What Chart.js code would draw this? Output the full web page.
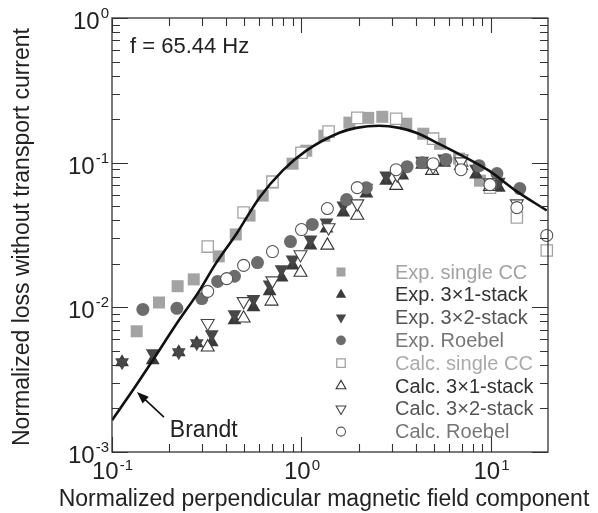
<!DOCTYPE html>
<html>
<head>
<meta charset="utf-8">
<script src="https://cdn.jsdelivr.net/npm/chart.js@4.4.0/dist/chart.umd.min.js"></script>
<style>
  html, body { margin: 0; padding: 0; background: #fff; }
  #wrap { width: 598px; height: 513px; }
</style>
</head>
<body>
<div id="wrap"><canvas id="loss-chart" width="598" height="513"></canvas></div>
<script>
'use strict';

// (log-log axes)
var xTickExps = [-1, 0, 1];
var yTickExps = [-3, -2, -1, 0];

var legendLabels = ['Exp. single CC', 'Exp. 3\u00d71-stack', 'Exp. 3\u00d72-stack', 'Exp. Roebel',
                    'Calc. single CC', 'Calc. 3\u00d71-stack', 'Calc. 3\u00d72-stack', 'Calc. Roebel'];

var expSingleX = [0.135, 0.177, 0.222, 0.270, 0.366, 0.450, 0.532, 0.624, 0.703, 0.897,
                  1.06, 1.32, 1.79, 2.25, 2.67, 3.57, 4.39, 5.39, 6.79, 8.75];
var expSingleY = [0.00683, 0.0108, 0.0140, 0.0156, 0.0225, 0.0319, 0.0431, 0.0592, 0.0728, 0.0984,
                  0.121, 0.1535, 0.189, 0.204, 0.2075, 0.186, 0.1585, 0.135, 0.1067, 0.0751];

var exp31X = [0.113, 0.164, 0.225, 0.280, 0.336, 0.443, 0.558, 0.679, 0.785, 0.897, 1.115,
              1.355, 1.663, 2.20, 2.80, 3.40, 4.33, 5.66, 7.03, 8.34, 11.0];
var exp31Y = [0.00418, 0.00431, 0.0049, 0.00565, 0.00573, 0.00813, 0.0100, 0.0129, 0.0161, 0.0195, 0.0268,
              0.0351, 0.0452, 0.0611, 0.0751, 0.0814, 0.0968, 0.100, 0.100, 0.0827, 0.0672];

var exp32X = [0.113, 0.164, 0.225, 0.280, 0.336, 0.443, 0.558, 0.679, 0.785, 0.897, 1.115,
              1.355, 1.663, 2.20, 2.80, 3.40, 4.33, 5.66, 7.03, 8.34, 11.0];
var exp32Y = [0.00418, 0.00482, 0.0049, 0.00565, 0.00651, 0.00895, 0.0114, 0.0144, 0.0183, 0.0214, 0.0294,
              0.0386, 0.0505, 0.0672, 0.0814, 0.0867, 0.1033, 0.1067, 0.1067, 0.0909, 0.0739];

var expRoebelX = [0.1455, 0.220, 0.298, 0.361, 0.443, 0.586, 0.875, 1.14, 1.73, 2.20,
                  3.61, 4.33, 5.79, 8.65, 10.75, 14.2];
var expRoebelY = [0.00968, 0.00984, 0.0115, 0.0151, 0.0164, 0.0204, 0.0285, 0.0374, 0.0556, 0.0672,
                  0.0938, 0.100, 0.105, 0.0953, 0.084, 0.0662];

var calcSingleX = [0.320, 0.495, 0.703, 1.0, 1.39, 1.97, 3.16, 4.95, 6.95, 9.88, 13.7, 19.7];
var calcSingleY = [0.0263, 0.0452, 0.0739, 0.117, 0.164, 0.204, 0.201, 0.1466, 0.1033, 0.0672, 0.0418, 0.0247];

var calc31X = [0.320, 0.495, 0.695, 0.988, 1.37, 1.97, 3.16, 4.89, 6.95, 9.88];
var calc31Y = [0.0053, 0.0084, 0.0110, 0.0174, 0.0268, 0.0431, 0.0694, 0.0881, 0.0953, 0.0683];

var calc32X = [0.320, 0.495, 0.703, 0.988, 1.39, 1.97, 3.2, 4.95, 6.95, 9.88, 13.7];
var calc32Y = [0.00776, 0.0110, 0.0153, 0.0232, 0.0356, 0.0521, 0.0827, 0.0938, 0.1017, 0.0728, 0.0521];

var calcRoebelX = [0.320, 0.403, 0.495, 0.703, 1.0, 1.37, 1.97, 3.16, 4.95, 6.95, 9.88, 13.7, 19.7];
var calcRoebelY = [0.0129, 0.0158, 0.0195, 0.0243, 0.0345, 0.0482, 0.0672, 0.0894, 0.0984, 0.0894, 0.0705, 0.0489, 0.0314];

var brandtX = [0.1, 0.129, 0.164, 0.220, 0.290, 0.348, 0.455, 0.601, 0.795, 1.06, 1.585,
               1.95, 2.57, 3.28, 4.03, 5.32, 7.03, 9.76, 13.5, 19.7];
var brandtY = [0.00166, 0.00268, 0.0043, 0.00776, 0.0131, 0.0195, 0.0324, 0.0574, 0.088, 0.121, 0.161,
               0.174, 0.180, 0.174, 0.161, 0.135, 0.112, 0.088, 0.0641, 0.0467];

var FONT = '"Liberation Sans", Arial, sans-serif';

function pts(xs, ys) {
  return xs.map(function (x, i) { return { x: x, y: ys[i] }; });
}

// marker look for each series, same order as legendLabels
var styles = [
  { shape: 'rect', r: 8.5, rot: 0, fill: '#a3a3a3', stroke: '#a3a3a3', lw: 0 },
  { shape: 'triangle', r: 8, rot: 0, fill: '#3a3a3a', stroke: '#3a3a3a', lw: 0 },
  { shape: 'triangle', r: 8, rot: 180, fill: '#474747', stroke: '#474747', lw: 0 },
  { shape: 'circle', r: 6.5, rot: 0, fill: '#6c6c6c', stroke: '#6c6c6c', lw: 0 },
  { shape: 'rect', r: 8, rot: 0, fill: '#fff', stroke: '#a3a3a3', lw: 1.3 },
  { shape: 'triangle', r: 7.5, rot: 0, fill: '#fff', stroke: '#333', lw: 1.1 },
  { shape: 'triangle', r: 7.5, rot: 180, fill: '#fff', stroke: '#444', lw: 1.1 },
  { shape: 'circle', r: 6, rot: 0, fill: '#fff', stroke: '#555', lw: 1.1 }
];
var legendColors = ['#a3a3a3', '#333', '#555', '#777', '#aaa', '#333', '#555', '#777'];

var seriesData = [
  pts(expSingleX, expSingleY), pts(exp31X, exp31Y), pts(exp32X, exp32Y), pts(expRoebelX, expRoebelY),
  pts(calcSingleX, calcSingleY), pts(calc31X, calc31Y), pts(calc32X, calc32Y), pts(calcRoebelX, calcRoebelY)
];

var datasets = [{
  label: 'Brandt',
  data: pts(brandtX, brandtY),
  showLine: true,
  pointRadius: 0,
  borderColor: '#111',
  borderWidth: 2.6,
  cubicInterpolationMode: 'monotone',
  order: 0
}];
seriesData.forEach(function (d, i) {
  var s = styles[i];
  datasets.push({
    label: legendLabels[i],
    data: d,
    pointStyle: s.shape,
    pointRadius: s.r,
    pointRotation: s.rot,
    pointBackgroundColor: s.fill,
    pointBorderColor: s.stroke,
    pointBorderWidth: s.lw,
    clip: false,
    // calc markers sit on top of the exp ones
    order: i < 4 ? 20 - i : 12 - i
  });
});

function marker(ctx, s, x, y, scale) {
  var r = s.r * scale;
  ctx.save();
  ctx.beginPath();
  if (s.shape === 'rect') {
    var h = r * Math.SQRT1_2;
    ctx.rect(x - h, y - h, 2 * h, 2 * h);
  } else if (s.shape === 'circle') {
    ctx.arc(x, y, r, 0, Math.PI * 2);
  } else {
    var a = s.rot * Math.PI / 180;
    for (var k = 0; k < 3; k++) {
      var px = x + Math.sin(a) * r, py = y - Math.cos(a) * r;
      if (k === 0) ctx.moveTo(px, py); else ctx.lineTo(px, py);
      a += Math.PI * 2 / 3;
    }
    ctx.closePath();
  }
  ctx.fillStyle = s.fill;
  ctx.fill();
  if (s.lw > 0) {
    ctx.lineWidth = s.lw;
    ctx.strokeStyle = s.stroke;
    ctx.stroke();
  }
  ctx.restore();
}

function pow10(ctx, x, y, exp, align, expRaise) {
  var base = '10', e = String(exp);
  ctx.font = '24px ' + FONT;
  var wb = ctx.measureText(base).width;
  ctx.font = '15px ' + FONT;
  var we = ctx.measureText(e).width;
  var start = align === 'center' ? x - (wb + we) / 2 : x - wb - we;
  ctx.textAlign = 'left';
  ctx.textBaseline = 'alphabetic';
  ctx.font = '24px ' + FONT;
  ctx.fillText(base, start, y);
  ctx.font = '15px ' + FONT;
  ctx.fillText(e, start + wb + 1, y - expRaise);
}

var decorations = {
  id: 'decorations',
  afterDatasetsDraw: function (chart) {
    var ctx = chart.ctx, a = chart.chartArea;
    var xs = chart.scales.x, ys = chart.scales.y;
    ctx.save();

    // frame
    ctx.strokeStyle = '#333';
    ctx.lineWidth = 1.3;
    ctx.strokeRect(a.left, a.top, a.right - a.left, a.bottom - a.top);

    // inward ticks on all four sides
    ctx.lineWidth = 1.1;
    ctx.beginPath();
    [0.1, 1, 10].forEach(function (d) {
      for (var m = 1; m <= 9; m++) {
        var v = d * m;
        if (v > 20.001 || (d === 10 && m > 1)) break;
        var px = Math.round(xs.getPixelForValue(v)) + 0.5;
        var len = m === 1 ? 15 : 8;
        ctx.moveTo(px, a.bottom); ctx.lineTo(px, a.bottom - len);
        ctx.moveTo(px, a.top); ctx.lineTo(px, a.top + len);
      }
    });
    [0.001, 0.01, 0.1, 1].forEach(function (d) {
      for (var m = 1; m <= 9; m++) {
        var v = d * m;
        if (v > 1.0001) break;
        var py = Math.round(ys.getPixelForValue(v)) + 0.5;
        var len = m === 1 ? 16 : 8;
        ctx.moveTo(a.left, py); ctx.lineTo(a.left + len, py);
        ctx.moveTo(a.right, py); ctx.lineTo(a.right - len, py);
      }
    });
    ctx.stroke();

    // tick labels
    ctx.fillStyle = '#222';
    xTickExps.forEach(function (e) {
      pow10(ctx, xs.getPixelForValue(Math.pow(10, e)), a.bottom + 27, e, 'center', 9);
    });
    yTickExps.forEach(function (e) {
      pow10(ctx, a.left - 4, ys.getPixelForValue(Math.pow(10, e)) + 11, e, 'right', 11);
    });

    // axis titles
    ctx.font = '23px ' + FONT;
    ctx.textAlign = 'center';
    ctx.textBaseline = 'alphabetic';
    ctx.fillText('Normalized perpendicular magnetic field component', 324, 506);
    ctx.save();
    ctx.translate(29, 237);
    ctx.rotate(-Math.PI / 2);
    ctx.fillText('Normalized loss without transport current', 0, 0);
    ctx.restore();

    // frequency note
    ctx.textAlign = 'left';
    ctx.font = '22px ' + FONT;
    ctx.fillText('f = 65.44 Hz', a.left + 18, a.top + 35);

    // Brandt label with arrow
    ctx.font = '23px ' + FONT;
    ctx.fillText('Brandt', xs.getPixelForValue(0.202), ys.getPixelForValue(0.00127));
    var tx = xs.getPixelForValue(0.188), ty = ys.getPixelForValue(0.00174);
    var hx = xs.getPixelForValue(0.1354), hy = ys.getPixelForValue(0.0026);
    var ang = Math.atan2(hy - ty, hx - tx);
    ctx.strokeStyle = '#111';
    ctx.lineWidth = 1.6;
    ctx.beginPath();
    ctx.moveTo(tx, ty);
    ctx.lineTo(hx - Math.cos(ang) * 8, hy - Math.sin(ang) * 8);
    ctx.stroke();
    ctx.fillStyle = '#111';
    ctx.beginPath();
    ctx.moveTo(hx, hy);
    ctx.lineTo(hx - Math.cos(ang) * 12 + Math.sin(ang) * 4.5, hy - Math.sin(ang) * 12 - Math.cos(ang) * 4.5);
    ctx.lineTo(hx - Math.cos(ang) * 12 - Math.sin(ang) * 4.5, hy - Math.sin(ang) * 12 + Math.cos(ang) * 4.5);
    ctx.closePath();
    ctx.fill();

    // legend inside the plot
    ctx.font = '20px ' + FONT;
    ctx.textBaseline = 'middle';
    legendLabels.forEach(function (lab, i) {
      var y = 272 + i * 22.8;
      marker(ctx, styles[i], 341, y, 0.75);
      ctx.fillStyle = legendColors[i];
      ctx.fillText(lab, 395, y + 1);
    });

    ctx.restore();
  }
};

var ctx = document.getElementById('loss-chart');
var lossChart = new Chart(ctx, {
  type: 'scatter',
  data: { datasets: datasets },
  options: {
    responsive: false,
    animation: false,
    events: [],
    layout: { padding: { left: 112, top: 18, right: 50, bottom: 61 } },
    plugins: { legend: { display: false }, tooltip: { enabled: false } },
    scales: {
      x: { type: 'logarithmic', min: 0.1, max: 20, display: false },
      y: { type: 'logarithmic', min: 0.001, max: 1, display: false }
    }
  },
  plugins: [decorations]
});
</script>
</body>
</html>
